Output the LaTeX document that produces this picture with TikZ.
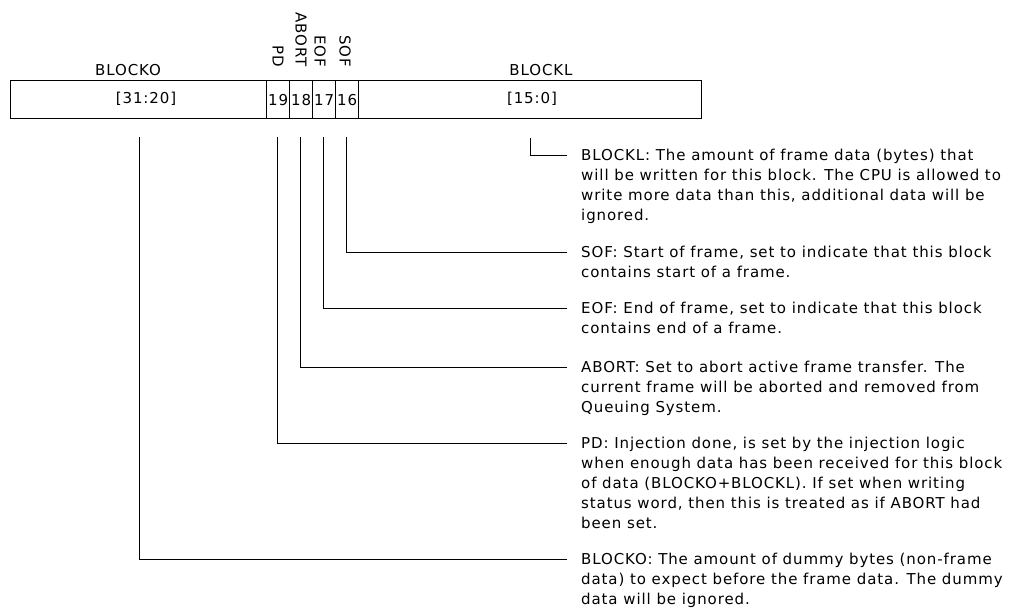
\documentclass[tikz,border=0pt]{standalone}
\usepackage{fontspec}
\setmainfont[LetterSpace=6]{DejaVu Sans}
\begin{document}
\begin{tikzpicture}[x=1pt,y=-1pt,
  txt/.style={font=\fontsize{15}{20}\selectfont, inner sep=0pt},
  cell/.style={draw, line width=1.2pt, minimum height=38pt, inner sep=0pt, anchor=north west},
  vlab/.style={txt, rotate=-90, anchor=east},
  desc/.style={txt, anchor=base west},
  conn/.style={line width=1pt}]
\useasboundingbox (0,0) rectangle (1022,609);
% register cells
\node[cell, minimum width=256pt] (cO) at (10,80) {};
\node[cell, minimum width=23pt] (c19) at (266,80) {};
\node[cell, minimum width=23pt] (c18) at (289,80) {};
\node[cell, minimum width=23pt] (c17) at (312,80) {};
\node[cell, minimum width=23pt] (c16) at (335,80) {};
\node[cell, minimum width=343pt] (cL) at (358,80) {};
% cell texts
\node[txt] (rO) at (146,99) {[31:20]};
\node[txt] (r19) at (c19.center) {19};
\node[txt] (r18) at (c18.center) {18};
\node[txt] (r17) at (c17.center) {17};
\node[txt] (r16) at (c16.center) {16};
\node[txt] (rL) at (532,99) {[15:0]};
% field names
\node[txt] (nO) at (128,70) {BLOCKO};
\node[txt] (nL) at (541,70) {BLOCKL};
\node[vlab] (nPD) at (278,67) {PD};
\node[vlab] (nAB) at (301,67) {ABORT};
\node[vlab] (nEOF) at (320,67) {EOF};
\node[vlab] (nSOF) at (345,67) {SOF};
% connector start / end points
\coordinate (sL) at (530,138);
\coordinate (sSOF) at (346,137);
\coordinate (sEOF) at (323,137);
\coordinate (sAB) at (300,137);
\coordinate (sPD) at (277,137);
\coordinate (sO) at (139,137);
\coordinate (eL) at (567,156);
\coordinate (eSOF) at (567,253);
\coordinate (eEOF) at (567,309);
\coordinate (eAB) at (567,367);
\coordinate (ePD) at (567,443);
\coordinate (eO) at (567,559);
% descriptions
\node[desc] (dL) at (581,161) {\vtop{\hbox{BLOCKL: The amount of frame data (bytes) that}\hbox{will be written for this block. The CPU is allowed to}\hbox{write more data than this, additional data will be}\hbox{ignored.}}};
\node[desc] (dSOF) at (581,258) {\vtop{\hbox{SOF: Start of frame, set to indicate that this block}\hbox{contains start of a frame.}}};
\node[desc] (dEOF) at (581,314) {\vtop{\hbox{EOF: End of frame, set to indicate that this block}\hbox{contains end of a frame.}}};
\node[desc] (dAB) at (581,372) {\vtop{\hbox{ABORT: Set to abort active frame transfer. The}\hbox{current frame will be aborted and removed from}\hbox{Queuing System.}}};
\node[desc] (dPD) at (581,448) {\vtop{\hbox{PD: Injection done, is set by the injection logic}\hbox{when enough data has been received for this block}\hbox{of data (BLOCKO+BLOCKL). If set when writing}\hbox{status word, then this is treated as if ABORT had}\hbox{been set.}}};
\node[desc] (dO) at (581,564) {\vtop{\hbox{BLOCKO: The amount of dummy bytes (non-frame}\hbox{data) to expect before the frame data. The dummy}\hbox{data will be ignored.}}};
% connectors
\draw[conn] (sL) |- (eL);
\draw[conn] (sSOF) |- (eSOF);
\draw[conn] (sEOF) |- (eEOF);
\draw[conn] (sAB) |- (eAB);
\draw[conn] (sPD) |- (ePD);
\draw[conn] (sO) |- (eO);
\end{tikzpicture}
\end{document}
